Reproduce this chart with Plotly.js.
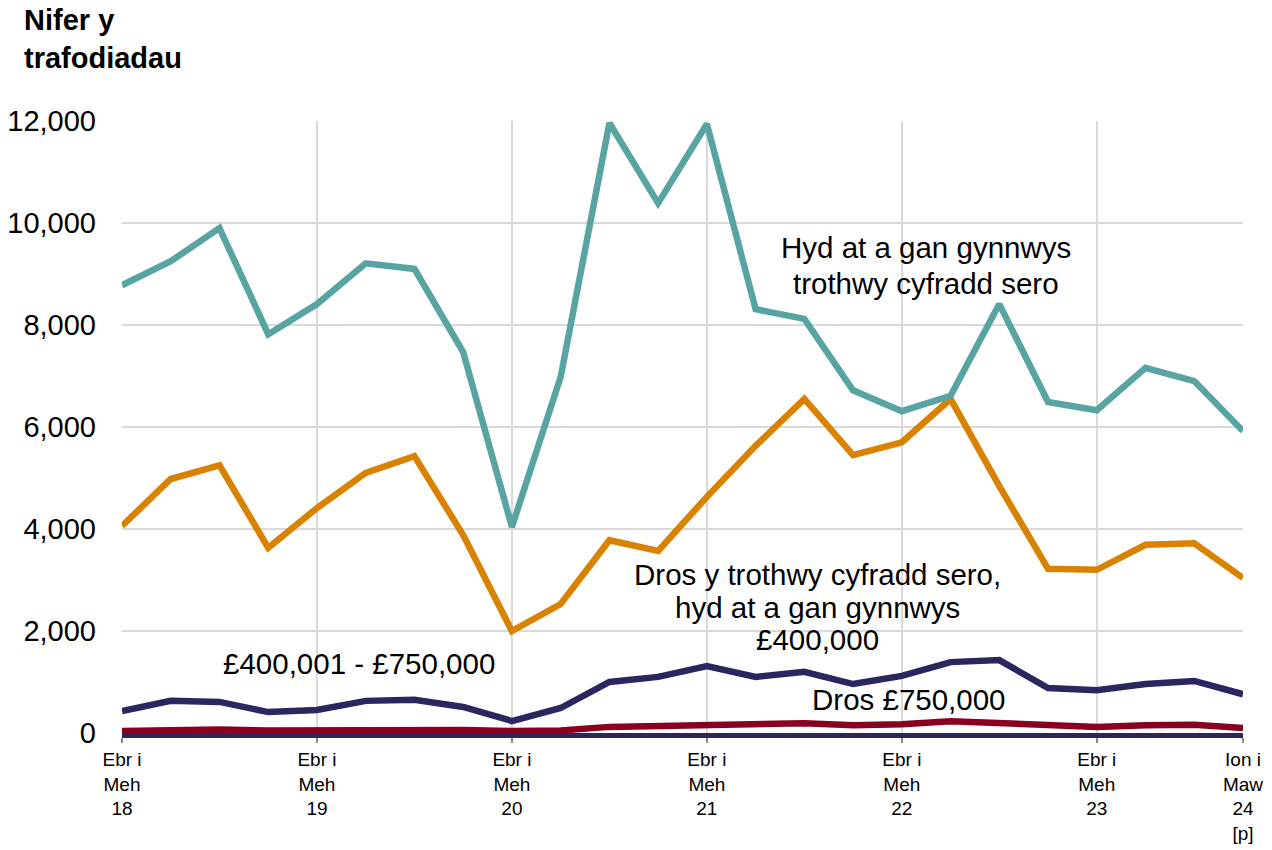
<!DOCTYPE html>
<html>
<head>
<meta charset="utf-8">
<script src="https://cdn.plot.ly/plotly-3.0.1.min.js"></script>
<style>html,body{margin:0;padding:0;background:#fff;}#chart{width:1272px;height:850px;}</style>
</head>
<body>
<div id="chart"></div>
<script>
const quarters = [
  "Ebr i Meh 18","Gor i Med 18","Hyd i Rhag 18","Ion i Maw 19",
  "Ebr i Meh 19","Gor i Med 19","Hyd i Rhag 19","Ion i Maw 20",
  "Ebr i Meh 20","Gor i Med 20","Hyd i Rhag 20","Ion i Maw 21",
  "Ebr i Meh 21","Gor i Med 21","Hyd i Rhag 21","Ion i Maw 22",
  "Ebr i Meh 22","Gor i Med 22","Hyd i Rhag 22","Ion i Maw 23",
  "Ebr i Meh 23","Gor i Med 23","Hyd i Rhag 23","Ion i Maw 24 [p]"
];
const tickQuarters = ["Ebr i Meh 18","Ebr i Meh 19","Ebr i Meh 20","Ebr i Meh 21","Ebr i Meh 22","Ebr i Meh 23","Ion i Maw 24 [p]"];
const tickLabels = ["Ebr i<br>Meh<br>18","Ebr i<br>Meh<br>19","Ebr i<br>Meh<br>20","Ebr i<br>Meh<br>21","Ebr i<br>Meh<br>22","Ebr i<br>Meh<br>23","Ion i<br>Maw<br>24<br>[p]"];

const uptoZeroRate = [8780,9250,9900,7820,8410,9210,9100,7470,4040,6980,11960,10390,11940,8310,8120,6720,6310,6610,8410,6490,6330,7160,6900,5920];
const zeroTo400k   = [4060,4980,5250,3630,4410,5100,5430,3880,2000,2530,3780,3570,4630,5630,6550,5450,5700,6550,4840,3220,3200,3690,3720,3040];
const from400kTo750k = [430,630,610,410,450,630,650,510,235,490,1000,1100,1310,1100,1200,960,1120,1390,1430,880,840,960,1020,760];
const over750k     = [40,60,70,50,60,70,70,60,40,50,120,140,160,150,190,150,170,230,200,140,120,150,160,100];

const labelLines = [
  ["Hyd at a gan gynnwys","trothwy cyfradd sero"],
  ["Dros y trothwy cyfradd sero,","hyd at a gan gynnwys","£400,000"],
  ["£400,001 - £750,000"],
  ["Dros £750,000"]
];
const colors = ["#58a4a3","#d98200","#2a2660","#8a0020"];
const values = [uptoZeroRate, zeroTo400k, from400kTo750k, over750k];

const traces = values.map((v,i)=>({
  x: quarters, y: v, type:'scatter', mode:'lines', name: labelLines[i].join(' '),
  line:{color:colors[i], width:6.5, shape:'linear'}, hoverinfo:'skip'
})).reverse();

// label anchor (category index, value of first line, spacing in value units per line)
const labelPos = [
  {x:16.5, y:9510, dy:690},
  {x:14.26, y:3100, dy:630},
  {x:4.86, y:1370, dy:0},
  {x:16.15, y:650, dy:0}
];

const font = "Liberation Sans, Arial, sans-serif";
const annotations = [
  {xref:'paper', yref:'paper', x:-0.0892, y:1.195, xanchor:'left', yanchor:'top', align:'left',
   text:'<b>Nifer y<br>trafodiadau</b>', showarrow:false, font:{size:29, family:font, color:'#000'}}
];
labelLines.forEach((lines,i)=>{
  lines.forEach((t,j)=>{
    annotations.push({x:labelPos[i].x, y:labelPos[i].y - j*labelPos[i].dy, xref:'x', yref:'y',
      text:t, showarrow:false, align:'center', font:{size:29.5, family:font, color:'#000'}});
  });
});

const layout = {
  width:1272, height:850,
  margin:{l:122, r:29, t:121, b:117},
  paper_bgcolor:'#fff', plot_bgcolor:'#fff',
  showlegend:false,
  font:{family:font, color:'#000'},
  xaxis:{
    type:'category', categoryorder:'array', categoryarray:quarters,
    range:[0,23], tickmode:'array', tickvals:tickQuarters, ticktext:tickLabels,
    showgrid:true, gridcolor:'#d9d9d9', gridwidth:2,
    ticks:'outside', ticklen:5, tickwidth:2, tickcolor:'#8c8c8c',
    showline:true, linecolor:'#2a2660', linewidth:5,
    tickfont:{size:19, family:font, color:'#000'}, tickangle:0,
    zeroline:false, fixedrange:true
  },
  yaxis:{
    range:[0,12000], tickvals:[0,2000,4000,6000,8000,10000,12000],
    tickformat:',d', showgrid:true, gridcolor:'#d9d9d9', gridwidth:2,
    zeroline:false, showline:false, ticks:'', ticklabelstandoff:25,
    tickfont:{size:29, family:font, color:'#000'}, fixedrange:true
  },
  annotations: annotations
};
Plotly.newPlot('chart', traces, layout, {displayModeBar:false, staticPlot:true});
</script>
</body>
</html>
